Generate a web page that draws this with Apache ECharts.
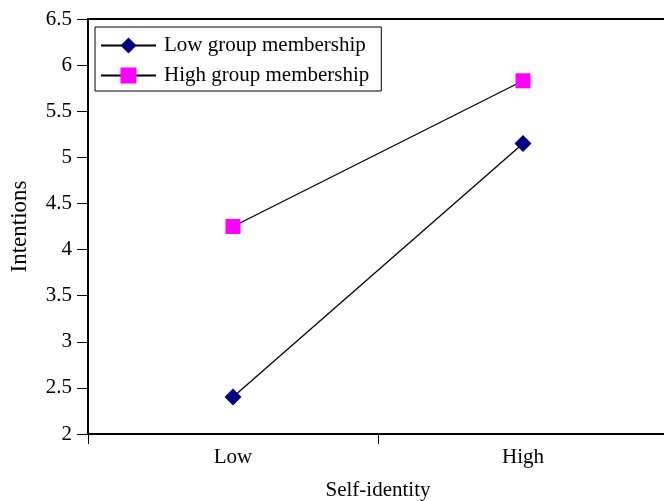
<!DOCTYPE html>
<html>
<head>
<meta charset="utf-8">
<script src="https://cdn.jsdelivr.net/npm/echarts@6/dist/echarts.min.js"></script>
<style>
  html, body { margin: 0; padding: 0; background: #fff; }
  #chart { width: 664px; height: 501px; }
</style>
</head>
<body>
<div id="chart"></div>
<script>
const categories = ['Low', 'High']
const lowGroup = [2.4, 5.15]
const highGroup = [4.25, 5.83]
const yTicks = [2, 2.5, 3, 3.5, 4, 4.5, 5, 5.5, 6, 6.5]

const font = 'Liberation Serif, Times New Roman, serif'
let chart = echarts.init(document.getElementById('chart'))
let option = {
  animation: false,
  textStyle: { fontFamily: font, color: '#000' },
  grid: {
    left: 88,
    right: -4,
    top: 19,
    bottom: 67,
    outerBoundsMode: 'none',
    show: true,
    borderColor: '#000',
    borderWidth: 2
  },
  legend: {
    orient: 'vertical',
    left: 95,
    top: 27,
    padding: [8, 12, 5, 5],
    itemWidth: 55,
    itemHeight: 20,
    itemGap: 9,
    borderColor: '#000',
    borderWidth: 1,
    textStyle: { fontFamily: font, fontSize: 21, color: '#000', padding: [0, 0, 0, 3] },
    data: ['Low group membership', 'High group membership']
  },
  xAxis: {
    type: 'category',
    data: categories,
    boundaryGap: true,
    name: 'Self-identity',
    nameLocation: 'middle',
    nameGap: 56,
    nameTextStyle: { fontFamily: font, fontSize: 21, color: '#000', verticalAlign: 'middle' },
    axisLine: { lineStyle: { color: '#000', width: 2 } },
    axisTick: { show: true, length: 10, lineStyle: { color: '#000', width: 1 } },
    axisLabel: { fontFamily: font, fontSize: 21, color: '#000', margin: 13 }
  },
  yAxis: {
    type: 'value',
    min: 2,
    max: 6.5,
    interval: 0.5,
    name: 'Intentions',
    nameLocation: 'middle',
    nameGap: 57,
    nameTextStyle: { fontFamily: font, fontSize: 23, color: '#000' },
    axisLine: { show: true, lineStyle: { color: '#000', width: 2 } },
    axisTick: { show: true, length: 11, lineStyle: { color: '#000', width: 1 } },
    axisLabel: {
      fontFamily: font,
      fontSize: 21,
      color: '#000',
      margin: 16,
      formatter: v => yTicks.includes(v) ? String(v) : ''
    },
    splitLine: { show: false }
  },
  series: [
    {
      name: 'Low group membership',
      type: 'line',
      data: lowGroup,
      symbol: 'diamond',
      symbolSize: 17,
      itemStyle: { color: '#000080' },
      lineStyle: { color: '#000', width: 1.3 }
    },
    {
      name: 'High group membership',
      type: 'line',
      data: highGroup,
      symbol: 'rect',
      symbolSize: 15,
      itemStyle: { color: '#ff00ff' },
      lineStyle: { color: '#000', width: 1.3 }
    }
  ]
}
chart.setOption(option, true)
</script>
</body>
</html>
